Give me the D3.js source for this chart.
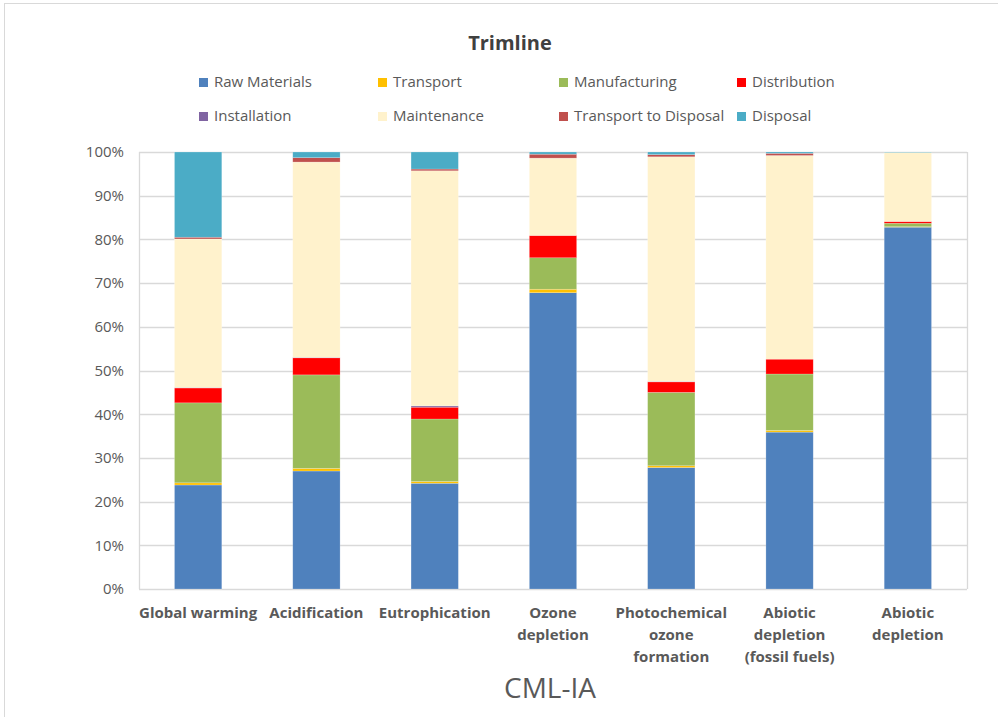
<!DOCTYPE html>
<html><head><meta charset="utf-8">
<script src="https://cdn.jsdelivr.net/npm/d3@7"></script>
<style>body{margin:0;background:#fff;}svg{display:block;font-family:"Open Sans","Noto Sans",sans-serif;}</style>
</head><body>
<svg id="c" width="998" height="717"></svg>
<script>
const categories = [["Global warming"],["Acidification"],["Eutrophication"],["Ozone","depletion"],["Photochemical","ozone","formation"],["Abiotic","depletion","(fossil fuels)"],["Abiotic","depletion"]];
const seriesNames = ["Raw Materials","Transport","Manufacturing","Distribution","Installation","Maintenance","Transport to Disposal","Disposal"];
const seriesColors = ["#4F81BD","#FFC000","#9BBB59","#FF0000","#8064A2","#FFF2CC","#C0504D","#4BACC6"];
const rawMaterials = [23.8, 27.0, 24.2, 67.8, 27.8, 35.9, 82.8];
const transport    = [0.5, 0.6, 0.4, 0.8, 0.4, 0.4, 0.1];
const manufacturing= [18.3, 21.4, 14.3, 7.2, 16.8, 12.9, 0.8];
const distribution = [3.4, 3.9, 2.7, 5.1, 2.4, 3.4, 0.4];
const installation = [0.1, 0.1, 0.3, 0.0, 0.1, 0.0, 0.0];
const maintenance  = [34.0, 44.7, 53.8, 17.7, 51.4, 46.6, 15.8];
const transportToDisposal = [0.4, 1.0, 0.4, 0.9, 0.5, 0.5, 0.0];
const disposal     = [19.5, 1.3, 3.9, 0.5, 0.6, 0.3, 0.1];
const yTicks = [0,10,20,30,40,50,60,70,80,90,100];
const title = "Trimline";
const xTitle = "CML-IA";

const seriesValues = [rawMaterials,transport,manufacturing,distribution,installation,maintenance,transportToDisposal,disposal];
const keys = seriesNames;
const rows = categories.map((c,i)=>{const r={cat:c.join(" ")};keys.forEach((k,j)=>r[k]=seriesValues[j][i]);return r;});

const svg = d3.select("#c");
const m = {l:139, r:967, t:152, b:589};
const x = d3.scaleBand().domain(rows.map(r=>r.cat)).range([m.l,m.r]).paddingInner(0.6).paddingOuter(0.3);
const y = d3.scaleLinear().domain([0,100]).range([m.b,m.t]);
const color = d3.scaleOrdinal().domain(keys).range(seriesColors);

// chart border
svg.append("rect").attr("x",4.5).attr("y",3.5).attr("width",1000).attr("height",720).attr("fill","none").attr("stroke","#d9d9d9");

// title
svg.append("text").attr("x",510).attr("y",50).attr("text-anchor","middle").attr("font-size",20).attr("font-weight","bold").attr("fill","#404040").text(title);

// gridlines
svg.append("g").selectAll("line").data(yTicks).join("line")
  .attr("x1",m.l).attr("x2",m.r).attr("y1",d=>Math.round(y(d))+0.5).attr("y2",d=>Math.round(y(d))+0.5)
  .attr("stroke","#d9d9d9").attr("stroke-width",1.3);
svg.append("line").attr("x1",m.l+0.5).attr("x2",m.l+0.5).attr("y1",m.t).attr("y2",m.b).attr("stroke","#d9d9d9").attr("stroke-width",1.3);
svg.append("line").attr("x1",m.r+0.5).attr("x2",m.r+0.5).attr("y1",m.t).attr("y2",m.b).attr("stroke","#d9d9d9").attr("stroke-width",1.3);

// y axis
const yAxis = d3.axisLeft(y).tickValues(yTicks).tickFormat(d=>d+"%").tickSize(0).tickPadding(15);
const ya = svg.append("g").attr("transform",`translate(${m.l},0)`).call(yAxis);
ya.select(".domain").remove();
ya.selectAll("text").attr("font-size",15).attr("fill","#595959").attr("font-family","'Open Sans',sans-serif");

// bars
const stack = d3.stack().keys(keys)(rows);
svg.append("g").selectAll("g").data(stack).join("g").attr("fill",d=>color(d.key))
  .selectAll("rect").data(d=>d).join("rect")
  .attr("x",d=>x(d.data.cat)).attr("width",x.bandwidth())
  .attr("y",d=>y(d[1])).attr("height",d=>Math.max(0,y(d[0])-y(d[1])))
  .attr("stroke","#ffffff").attr("stroke-opacity",0.35).attr("stroke-width",0.6);

// x axis labels
const xg = svg.append("g");
categories.forEach((lines,i)=>{
  const cx = x(rows[i].cat)+x.bandwidth()/2;
  const t = xg.append("text").attr("text-anchor","middle").attr("font-size",15).attr("font-weight","bold").attr("fill","#595959");
  lines.forEach((ln,k)=>t.append("tspan").attr("x",cx).attr("y",618+k*22).text(ln));
});

// x title
svg.append("text").attr("x",550).attr("y",698).attr("text-anchor","middle").attr("font-size",28).attr("fill","#595959").text(xTitle);

// legend
const legX = [199,378,559,737];
const legY = [82,116];
const lg = svg.append("g");
keys.forEach((k,i)=>{
  const gx = legX[i%4], gy = legY[Math.floor(i/4)];
  lg.append("rect").attr("x",gx).attr("y",gy-4).attr("width",9).attr("height",9).attr("fill",color(k));
  lg.append("text").attr("x",gx+15).attr("y",gy+5).attr("font-size",15).attr("fill","#595959").text(k);
});
</script>
</body></html>
